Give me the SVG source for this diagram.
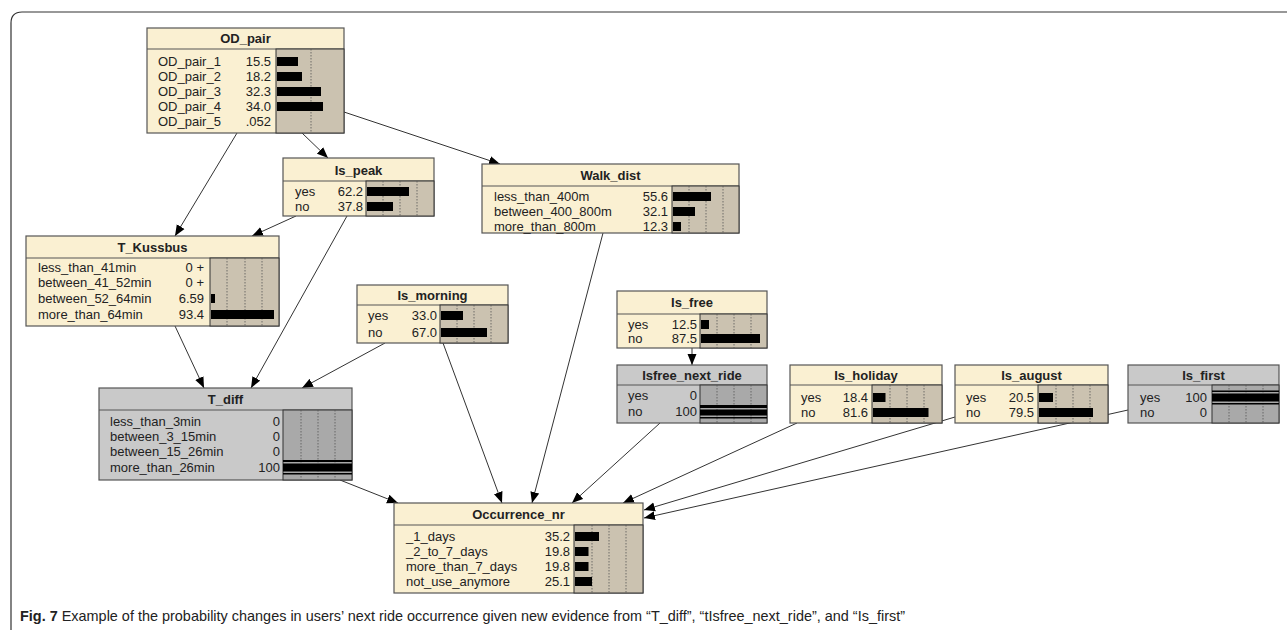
<svg xmlns="http://www.w3.org/2000/svg" width="1287" height="630" viewBox="0 0 1287 630">
<style>
.box{fill:#faf0d2;stroke:#555;stroke-width:1.2}
.gbox{fill:#c9c9c9;stroke:#555;stroke-width:1.2}
.sep{stroke:#555;stroke-width:1}
.ba{fill:#cbc2b0;stroke:#333;stroke-width:1}
.gba{fill:#a9a9a9;stroke:#333;stroke-width:1}
.dot{stroke:#555;stroke-width:0.8;stroke-dasharray:1.5 1.5}
.t{font-family:"Liberation Sans",Arial,sans-serif;font-size:13px;fill:#222}
.ti{font-family:"Liberation Sans",Arial,sans-serif;font-size:13px;font-weight:bold;fill:#222;text-anchor:middle}
.v{text-anchor:end}
.bar{fill:#000}
.edge{stroke:#333;stroke-width:1;fill:none;marker-end:url(#ah)}
.cap{font-family:"Liberation Sans Narrow","Liberation Sans",Arial,sans-serif;font-size:15px;fill:#222}
</style>
<defs>
<marker id="ah" markerWidth="12" markerHeight="10" refX="11" refY="5" orient="auto" markerUnits="userSpaceOnUse">
<path d="M0,0.5 L11,5 L0,9.5 z" fill="#000"/>
</marker>
</defs>
<rect width="1287" height="630" fill="#fff"/>
<path d="M11,630 V23 Q11,12 22,12 H1287" fill="none" stroke="#333" stroke-width="1.2"/>

<g id="connectors">
<line class="edge" x1="237" y1="133" x2="175" y2="236"/>
<line class="edge" x1="302" y1="133" x2="328" y2="158"/>
<line class="edge" x1="344" y1="112" x2="500" y2="164"/>
<line class="edge" x1="296" y1="216" x2="252" y2="236"/>
<line class="edge" x1="347" y1="216" x2="251" y2="388"/>
<line class="edge" x1="175" y1="326" x2="204" y2="388"/>
<line class="edge" x1="385" y1="343" x2="302" y2="388"/>
<line class="edge" x1="443" y1="343" x2="502" y2="503"/>
<line class="edge" x1="603" y1="233" x2="532" y2="503"/>
<line class="edge" x1="340" y1="480" x2="398" y2="503"/>
<line class="edge" x1="692" y1="348" x2="692" y2="365"/>
<line class="edge" x1="660" y1="423" x2="572" y2="503"/>
<line class="edge" x1="797" y1="423" x2="623" y2="503"/>
<line class="edge" x1="955" y1="417" x2="644" y2="510"/>
<line class="edge" x1="1128" y1="410" x2="644" y2="518"/>
</g>

<g id="OD_pair">
<rect class="box" x="147" y="28" width="197" height="105"/>
<line class="sep" x1="147" y1="49" x2="344" y2="49"/>
<rect class="ba" x="276" y="49" width="68" height="84"/>
<line class="dot" x1="311" y1="49" x2="311" y2="133"/>
<text class="ti" x="245.5" y="43">OD_pair</text>
<text class="t" x="158" y="66">OD_pair_1</text><text class="t v" x="271" y="66">15.5</text><rect class="bar" x="277" y="57" width="21" height="9"/>
<text class="t" x="158" y="81">OD_pair_2</text><text class="t v" x="271" y="81">18.2</text><rect class="bar" x="277" y="72" width="25" height="9"/>
<text class="t" x="158" y="96">OD_pair_3</text><text class="t v" x="271" y="96">32.3</text><rect class="bar" x="277" y="87" width="44" height="9"/>
<text class="t" x="158" y="111">OD_pair_4</text><text class="t v" x="271" y="111">34.0</text><rect class="bar" x="277" y="102" width="46" height="9"/>
<text class="t" x="158" y="126">OD_pair_5</text><text class="t v" x="271" y="126">.052</text>
</g>

<g id="Is_peak">
<rect class="box" x="283" y="158" width="151" height="58"/>
<line class="sep" x1="283" y1="181" x2="434" y2="181"/>
<rect class="ba" x="366" y="181" width="68" height="35"/>
<line class="dot" x1="383" y1="181" x2="383" y2="216"/><line class="dot" x1="400" y1="181" x2="400" y2="216"/><line class="dot" x1="417" y1="181" x2="417" y2="216"/>
<text class="ti" x="358.5" y="175">Is_peak</text>
<text class="t" x="295" y="196">yes</text><text class="t v" x="363" y="196">62.2</text><rect class="bar" x="367" y="187" width="42" height="9"/>
<text class="t" x="295" y="211">no</text><text class="t v" x="363" y="211">37.8</text><rect class="bar" x="367" y="202" width="26" height="9"/>
</g>

<g id="Walk_dist">
<rect class="box" x="482" y="164" width="257" height="69"/>
<line class="sep" x1="482" y1="186" x2="739" y2="186"/>
<rect class="ba" x="672" y="186" width="67" height="47"/>
<line class="dot" x1="689" y1="186" x2="689" y2="233"/><line class="dot" x1="706" y1="186" x2="706" y2="233"/><line class="dot" x1="723" y1="186" x2="723" y2="233"/>
<text class="ti" x="610.5" y="180">Walk_dist</text>
<text class="t" x="494" y="201">less_than_400m</text><text class="t v" x="668" y="201">55.6</text><rect class="bar" x="673" y="192" width="38" height="9"/>
<text class="t" x="494" y="216">between_400_800m</text><text class="t v" x="668" y="216">32.1</text><rect class="bar" x="673" y="207" width="22" height="9"/>
<text class="t" x="494" y="231">more_than_800m</text><text class="t v" x="668" y="231">12.3</text><rect class="bar" x="673" y="222" width="8" height="9"/>
</g>

<g id="T_Kussbus">
<rect class="box" x="26" y="236" width="253" height="90"/>
<line class="sep" x1="26" y1="258" x2="279" y2="258"/>
<rect class="ba" x="210" y="258" width="69" height="68"/>
<line class="dot" x1="227" y1="258" x2="227" y2="326"/><line class="dot" x1="245" y1="258" x2="245" y2="326"/><line class="dot" x1="262" y1="258" x2="262" y2="326"/>
<text class="ti" x="152.5" y="252">T_Kussbus</text>
<text class="t" x="38" y="272">less_than_41min</text><text class="t v" x="204" y="272">0 +</text>
<text class="t" x="38" y="287">between_41_52min</text><text class="t v" x="204" y="287">0 +</text>
<text class="t" x="38" y="303">between_52_64min</text><text class="t v" x="204" y="303">6.59</text><rect class="bar" x="211" y="294" width="4" height="9"/>
<text class="t" x="38" y="319">more_than_64min</text><text class="t v" x="204" y="319">93.4</text><rect class="bar" x="211" y="310" width="63" height="9"/>
</g>

<g id="Is_morning">
<rect class="box" x="357" y="285" width="151" height="58"/>
<line class="sep" x1="357" y1="305" x2="508" y2="305"/>
<rect class="ba" x="440" y="305" width="68" height="38"/>
<line class="dot" x1="457" y1="305" x2="457" y2="343"/><line class="dot" x1="474" y1="305" x2="474" y2="343"/><line class="dot" x1="491" y1="305" x2="491" y2="343"/>
<text class="ti" x="432.5" y="300">Is_morning</text>
<text class="t" x="368" y="320">yes</text><text class="t v" x="437" y="320">33.0</text><rect class="bar" x="441" y="311" width="22" height="9"/>
<text class="t" x="368" y="337">no</text><text class="t v" x="437" y="337">67.0</text><rect class="bar" x="441" y="328" width="46" height="9"/>
</g>

<g id="Is_free">
<rect class="box" x="617" y="291" width="150" height="57"/>
<line class="sep" x1="617" y1="314" x2="767" y2="314"/>
<rect class="ba" x="700" y="314" width="67" height="34"/>
<line class="dot" x1="717" y1="314" x2="717" y2="348"/><line class="dot" x1="734" y1="314" x2="734" y2="348"/><line class="dot" x1="751" y1="314" x2="751" y2="348"/>
<text class="ti" x="692" y="307">Is_free</text>
<text class="t" x="628" y="329">yes</text><text class="t v" x="697" y="329">12.5</text><rect class="bar" x="701" y="320" width="8" height="9"/>
<text class="t" x="628" y="343">no</text><text class="t v" x="697" y="343">87.5</text><rect class="bar" x="701" y="334" width="59" height="9"/>
</g>

<g id="Isfree_next_ride">
<rect class="gbox" x="617" y="365" width="150" height="58"/>
<line class="sep" x1="617" y1="385" x2="767" y2="385"/>
<rect class="gba" x="700" y="385" width="67" height="38"/>
<line class="dot" x1="717" y1="385" x2="717" y2="423"/><line class="dot" x1="734" y1="385" x2="734" y2="423"/><line class="dot" x1="751" y1="385" x2="751" y2="423"/>
<text class="ti" x="692" y="380">Isfree_next_ride</text>
<text class="t" x="628" y="400">yes</text><text class="t v" x="697" y="400">0</text>
<text class="t" x="628" y="416">no</text><text class="t v" x="697" y="416">100</text>
<rect class="bar" x="700" y="405" width="67" height="3"/><rect class="bar" x="700" y="409.5" width="67" height="6"/><rect class="bar" x="700" y="417" width="67" height="1.5"/>
</g>

<g id="T_diff">
<rect class="gbox" x="99" y="388" width="253" height="92"/>
<line class="sep" x1="99" y1="410" x2="352" y2="410"/>
<rect class="gba" x="283" y="410" width="69" height="70"/>
<line class="dot" x1="301" y1="410" x2="301" y2="480"/><line class="dot" x1="318" y1="410" x2="318" y2="480"/><line class="dot" x1="335" y1="410" x2="335" y2="480"/>
<text class="ti" x="225.5" y="404">T_diff</text>
<text class="t" x="110" y="426">less_than_3min</text><text class="t v" x="280" y="426">0</text>
<text class="t" x="110" y="441">between_3_15min</text><text class="t v" x="280" y="441">0</text>
<text class="t" x="110" y="456">between_15_26min</text><text class="t v" x="280" y="456">0</text>
<text class="t" x="110" y="472">more_than_26min</text><text class="t v" x="280" y="472">100</text>
<rect class="bar" x="283" y="460" width="69" height="2"/><rect class="bar" x="283" y="463.5" width="69" height="8"/><rect class="bar" x="283" y="473" width="69" height="1.5"/>
</g>

<g id="Is_holiday">
<rect class="box" x="790" y="365" width="152" height="58"/>
<line class="sep" x1="790" y1="385" x2="942" y2="385"/>
<rect class="ba" x="872" y="385" width="70" height="38"/>
<line class="dot" x1="890" y1="385" x2="890" y2="423"/><line class="dot" x1="907" y1="385" x2="907" y2="423"/><line class="dot" x1="924" y1="385" x2="924" y2="423"/>
<text class="ti" x="866" y="380">Is_holiday</text>
<text class="t" x="801" y="402">yes</text><text class="t v" x="868" y="402">18.4</text><rect class="bar" x="873" y="393" width="12.5" height="9"/>
<text class="t" x="801" y="417">no</text><text class="t v" x="868" y="417">81.6</text><rect class="bar" x="873" y="408" width="55.5" height="9"/>
</g>

<g id="Is_august">
<rect class="box" x="955" y="365" width="153" height="58"/>
<line class="sep" x1="955" y1="385" x2="1108" y2="385"/>
<rect class="ba" x="1038" y="385" width="70" height="38"/>
<line class="dot" x1="1056" y1="385" x2="1056" y2="423"/><line class="dot" x1="1073" y1="385" x2="1073" y2="423"/><line class="dot" x1="1090" y1="385" x2="1090" y2="423"/>
<text class="ti" x="1031.5" y="380">Is_august</text>
<text class="t" x="966" y="402">yes</text><text class="t v" x="1034" y="402">20.5</text><rect class="bar" x="1039" y="393" width="14" height="9"/>
<text class="t" x="966" y="417">no</text><text class="t v" x="1034" y="417">79.5</text><rect class="bar" x="1039" y="408" width="54" height="9"/>
</g>

<g id="Is_first">
<rect class="gbox" x="1128" y="365" width="151" height="58"/>
<line class="sep" x1="1128" y1="385" x2="1279" y2="385"/>
<rect class="gba" x="1212" y="385" width="67" height="38"/>
<line class="dot" x1="1229" y1="385" x2="1229" y2="423"/><line class="dot" x1="1246" y1="385" x2="1246" y2="423"/><line class="dot" x1="1263" y1="385" x2="1263" y2="423"/>
<text class="ti" x="1203.5" y="380">Is_first</text>
<text class="t" x="1140" y="402">yes</text><text class="t v" x="1207" y="402">100</text>
<text class="t" x="1140" y="417">no</text><text class="t v" x="1207" y="417">0</text>
<rect class="bar" x="1212" y="390.5" width="67" height="1.5"/><rect class="bar" x="1212" y="393.5" width="67" height="8"/><rect class="bar" x="1212" y="403" width="67" height="1.5"/>
</g>

<g id="Occurrence_nr">
<rect class="box" x="394" y="503" width="249" height="90"/>
<line class="sep" x1="394" y1="525" x2="643" y2="525"/>
<rect class="ba" x="574" y="525" width="69" height="68"/>
<line class="dot" x1="592" y1="525" x2="592" y2="593"/><line class="dot" x1="609" y1="525" x2="609" y2="593"/><line class="dot" x1="626" y1="525" x2="626" y2="593"/>
<text class="ti" x="518.5" y="519">Occurrence_nr</text>
<text class="t" x="406" y="541">_1_days</text><text class="t v" x="570" y="541">35.2</text><rect class="bar" x="575" y="532" width="24" height="9"/>
<text class="t" x="406" y="556">_2_to_7_days</text><text class="t v" x="570" y="556">19.8</text><rect class="bar" x="575" y="547" width="13.5" height="9"/>
<text class="t" x="406" y="571">more_than_7_days</text><text class="t v" x="570" y="571">19.8</text><rect class="bar" x="575" y="562" width="13.5" height="9"/>
<text class="t" x="406" y="586">not_use_anymore</text><text class="t v" x="570" y="586">25.1</text><rect class="bar" x="575" y="577" width="17" height="9"/>
</g>

<text class="cap" x="20" y="621" textLength="885" lengthAdjust="spacingAndGlyphs"><tspan font-weight="bold">Fig. 7</tspan>  Example of the probability changes in users’ next ride occurrence given new evidence from “T_diff”, “tIsfree_next_ride”, and “Is_first”</text>
</svg>
